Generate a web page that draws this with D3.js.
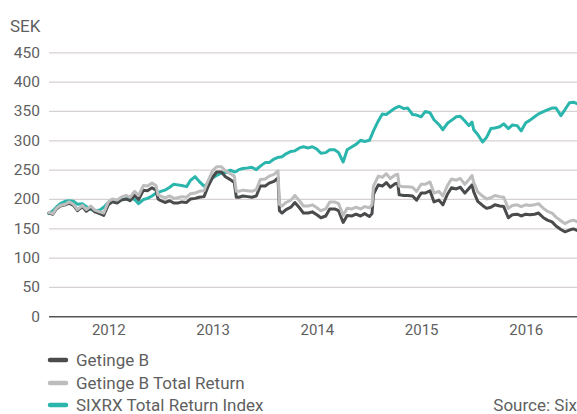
<!DOCTYPE html>
<html><head><meta charset="utf-8">
<script src="https://cdn.jsdelivr.net/npm/d3@7"></script>
<style>
html,body{margin:0;padding:0;background:#fff;}
svg{display:block;font-family:Roboto,"Noto Sans",sans-serif;}
</style>
</head><body>
<svg id="chart" width="577" height="414"></svg>
<script>
// ---- data ----
const dates = [
  "2011-12-06","2011-12-20",
  "2012-01-01","2012-01-15","2012-02-01","2012-02-15","2012-03-01","2012-03-15","2012-04-01","2012-04-15","2012-05-01","2012-05-15","2012-06-01","2012-06-15","2012-07-01","2012-07-15","2012-08-01","2012-08-15","2012-09-01","2012-09-15","2012-10-01","2012-10-15","2012-11-01","2012-11-15","2012-12-01","2012-12-15","2012-12-22",
  "2013-01-01","2013-01-15","2013-02-01","2013-02-15","2013-03-01","2013-03-15","2013-04-01","2013-04-15","2013-05-01","2013-05-15","2013-06-01","2013-06-15","2013-07-01","2013-07-15","2013-08-01","2013-08-15","2013-09-01","2013-09-15","2013-09-22","2013-10-01","2013-10-15","2013-11-01","2013-11-15","2013-12-01","2013-12-15",
  "2014-01-01","2014-01-15","2014-02-01","2014-02-15","2014-02-20","2014-03-01","2014-03-15","2014-04-01","2014-04-15","2014-05-01","2014-05-15","2014-06-01","2014-06-15","2014-07-01","2014-07-15","2014-08-01","2014-08-15","2014-09-01","2014-09-15","2014-10-01","2014-10-15","2014-11-01","2014-11-15","2014-12-01","2014-12-15",
  "2015-01-01","2015-01-10","2015-01-15","2015-02-01","2015-02-15","2015-03-01","2015-03-15","2015-04-01","2015-04-10","2015-04-15","2015-05-01","2015-05-15","2015-06-01","2015-06-15","2015-07-01","2015-07-15","2015-08-01","2015-08-15","2015-09-01","2015-09-15","2015-10-01","2015-10-15","2015-11-01","2015-11-15","2015-12-01","2015-12-15","2015-12-26",
  "2016-01-01","2016-01-15","2016-02-01","2016-02-15","2016-03-01","2016-03-15","2016-04-01","2016-04-15","2016-05-01","2016-05-15","2016-06-01","2016-06-15","2016-07-01","2016-07-15","2016-08-01","2016-08-15","2016-09-01","2016-09-15","2016-10-01","2016-10-15","2016-11-01","2016-11-15","2016-12-01","2016-12-15","2016-12-30"
];
const getingeB = [
  176,174,
  183,188,190,193,189,180,187,179,185,178,175,172,190,195,193,198,200,197,206,199,215,214,219,215,200,
  197,194,197,193,193,195,194,200,201,203,204,221,237,246,246,238,233,228,203,203,205,204,203,205,222,
  222,227,230,236,180,176,182,186,194,185,176,176,178,173,168,171,183,183,180,160,172,171,174,171,175,
  170,175,208,224,222,228,220,226,227,207,206,206,205,198,210,210,214,195,198,190,208,219,217,220,210,218,224,
  212,196,189,184,186,190,188,187,168,173,174,171,174,173,174,176,168,164,161,154,148,144,147,149,146
];
const getingeBTotalReturn = [
  177,175,
  184,189,191,195,191,182,189,182,188,181,178,176,195,200,198,203,206,203,213,206,223,222,227,223,207,
  205,202,205,201,202,204,203,209,210,213,214,231,248,255,255,248,243,239,213,213,215,214,213,216,233,
  234,239,242,248,191,188,194,198,206,197,188,188,190,185,180,183,195,195,192,172,184,183,186,183,187,
  185,190,222,239,237,243,235,241,242,222,221,221,220,213,225,225,229,210,213,205,223,234,232,235,225,233,240,
  228,212,205,200,202,206,204,203,184,189,190,187,190,189,190,192,184,179,176,169,163,158,162,164,161
];
const sixrxTotalReturn = [
  175,180,
  186,192,196,197,196,191,192,187,182,180,181,186,194,196,198,199,200,202,199,192,199,201,205,210,211,
  213,215,220,225,224,223,221,232,238,230,222,226,236,240,244,245,249,246,247,250,252,253,254,250,256,
  262,262,268,271,271,272,277,281,282,287,289,287,289,285,278,279,284,284,279,263,284,289,293,300,298,
  300,310,316,333,345,344,349,355,357,358,354,355,344,343,340,349,347,335,327,318,329,334,340,341,333,325,331,
  318,310,297,305,320,321,323,328,320,326,325,316,330,334,340,345,349,352,355,355,342,352,364,365,362
];
const yTicks = [0,50,100,150,200,250,300,350,400,450];
const yearLabels = ["2012","2013","2014","2015","2016"];
const seriesNames = ["Getinge B","Getinge B Total Return","SIXRX Total Return Index"];
const seriesColors = ["#4a4b4d","#bdbdbd","#2ab5ad"];
const unitLabel = "SEK";
const sourceText = "Source: Six";

// ---- chart ----
const svg = d3.select("#chart");
const parse = d3.timeParse("%Y-%m-%d");
const D = dates.map(parse);

const x = d3.scaleTime()
  .domain([new Date(2012,0,1), new Date(2017,0,1)])
  .range([56.3, 578.3]);
const y = d3.scaleLinear().domain([0,450]).range([316.3, 52.3]);
const plotLeft = 49, plotRight = 577;

const textColor = "#5f5f5f";

// y axis with gridlines
const yAxis = svg.append("g")
  .attr("transform", `translate(${plotLeft},0)`)
  .call(d3.axisLeft(y).tickValues(yTicks).tickSize(-(plotRight-plotLeft)).tickPadding(9).tickFormat(d3.format("d")));
yAxis.select(".domain").remove();
yAxis.selectAll(".tick line")
  .attr("stroke", d => d === 0 ? "#555" : "#d8d1d1")
  .attr("stroke-width", d => d === 0 ? 1.5 : 1.2);
yAxis.selectAll(".tick text")
  .attr("fill", textColor).attr("font-size", 15.5)
  .attr("font-family", "Roboto, sans-serif");

svg.append("text").attr("x", 10).attr("y", 32)
  .attr("fill", textColor).attr("font-size", 17).text(unitLabel);

// x axis labels at mid-year
const xAxis = svg.append("g")
  .attr("transform", `translate(0,${y(0)})`)
  .call(d3.axisBottom(x)
    .tickValues(yearLabels.map(yr => new Date(+yr, 6, 1)))
    .tickSize(0).tickPadding(8)
    .tickFormat((d,i) => yearLabels[i]));
xAxis.select(".domain").remove();
xAxis.selectAll(".tick text")
  .attr("fill", textColor).attr("font-size", 15)
  .attr("font-family", "Roboto, sans-serif");

// lines
const seriesValues = [getingeB, getingeBTotalReturn, sixrxTotalReturn];
const line = d3.line().x((d,i) => x(D[i])).y(d => y(d)).curve(d3.curveLinear);
const drawOrder = [2,0,1];
drawOrder.forEach(k => {
  svg.append("path")
    .datum(seriesValues[k])
    .attr("d", line)
    .attr("fill", "none")
    .attr("stroke", seriesColors[k])
    .attr("stroke-width", 3)
    .attr("stroke-linejoin", "round")
    .attr("stroke-linecap", "round");
});

// legend
const legendY = [360, 383, 405];
seriesNames.forEach((name, i) => {
  const g = svg.append("g").attr("transform", `translate(0,${legendY[i]})`);
  g.append("line").attr("x1", 50).attr("x2", 66).attr("y1", 0).attr("y2", 0)
    .attr("stroke", seriesColors[i]).attr("stroke-width", 4.5).attr("stroke-linecap", "round");
  g.append("text").attr("x", 76).attr("y", 0).attr("dy", "0.35em")
    .attr("fill", textColor).attr("font-size", 17).text(name);
});

svg.append("text").attr("x", 577).attr("y", legendY[2]).attr("dy", "0.35em")
  .attr("text-anchor", "end").attr("fill", textColor).attr("font-size", 17)
  .text(sourceText);
</script>
</body></html>
